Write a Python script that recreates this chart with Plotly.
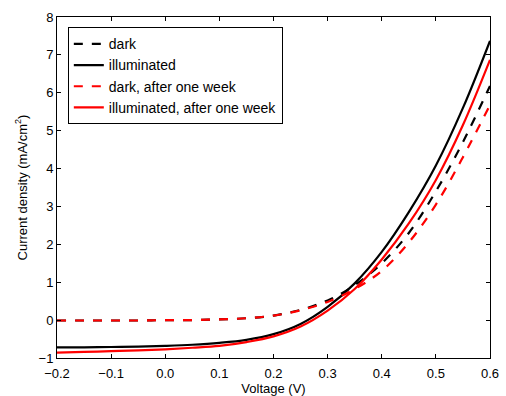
import plotly.graph_objects as go

voltage = [-0.2, -0.15, -0.1, -0.05, 0.0, 0.05, 0.1, 0.15, 0.2, 0.25, 0.3, 0.35, 0.4, 0.45, 0.5, 0.55, 0.6]
dark = [-0.01, -0.01, -0.01, -0.01, 0.0, 0.0, 0.02, 0.05, 0.12, 0.27, 0.52, 0.92, 1.5, 2.3, 3.4, 4.7, 6.18]
illuminated = [-0.72, -0.72, -0.71, -0.70, -0.68, -0.65, -0.6, -0.52, -0.37, -0.1, 0.35, 0.97, 1.8, 2.85, 4.08, 5.6, 7.37]
dark_week = [-0.01, -0.01, -0.01, -0.01, 0.0, 0.0, 0.02, 0.05, 0.12, 0.26, 0.48, 0.82, 1.3, 2.05, 3.05, 4.3, 5.68]
illum_week = [-0.86, -0.84, -0.82, -0.80, -0.77, -0.73, -0.68, -0.58, -0.43, -0.17, 0.25, 0.82, 1.6, 2.55, 3.7, 5.15, 6.87]

series = [
    ("dark", dark, "black", "dash"),
    ("illuminated", illuminated, "black", "solid"),
    ("dark, after one week", dark_week, "red", "dash"),
    ("illuminated, after one week", illum_week, "red", "solid"),
]

fig = go.Figure()
for name, ys, color, dash in series:
    fig.add_trace(go.Scatter(x=voltage, y=ys, name=name, mode="lines",
                             line=dict(color=color, dash=dash, width=2.2, shape="spline")))

axis_common = dict(showline=True, linecolor="black", linewidth=1, mirror="ticks",
                   ticks="inside", ticklen=4, tickcolor="black", showgrid=False,
                   zeroline=False, automargin=False, tickfont=dict(size=13, color="black"))

fig.update_layout(
    width=506, height=396,
    margin=dict(l=57, r=16, t=17, b=38),
    paper_bgcolor="white", plot_bgcolor="white",
    font=dict(family="Liberation Sans, Arial, sans-serif", size=13, color="black"),
    xaxis=dict(range=[-0.2, 0.6], dtick=0.1, tickformat=".1f", ticklabelstandoff=3,
               title=dict(text="Voltage (V)", standoff=2, font=dict(size=13)), **axis_common),
    yaxis=dict(range=[-1, 8], dtick=1,
               title=dict(text="Current density (mA/cm<sup>2</sup>)", standoff=8, font=dict(size=13)), **axis_common),
    legend=dict(x=0.025, y=0.97, xanchor="left", yanchor="top",
                bordercolor="black", borderwidth=1, bgcolor="white",
                font=dict(size=14), tracegroupgap=0, itemwidth=30),
    showlegend=True,
)

fig.write_html("out.html")
